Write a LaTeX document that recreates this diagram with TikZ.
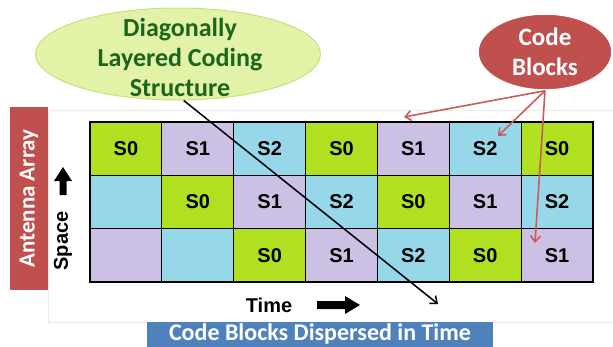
\documentclass[tikz,border=0pt]{standalone}
\usepackage{fontspec}
\setmainfont{Liberation Sans}
\newfontfamily\calib{Carlito}
\usetikzlibrary{shapes.geometric,arrows.meta}
\definecolor{col0}{HTML}{B0E020}
\definecolor{col1}{HTML}{CCC0E4}
\definecolor{col2}{HTML}{96D8EA}
\definecolor{redbox}{HTML}{C0504D}
\definecolor{redarrow}{HTML}{C85C5A}
\definecolor{bluebar}{HTML}{4F81BD}
\definecolor{ellfill}{HTML}{E2F3A8}
\definecolor{elldraw}{HTML}{C4E37E}
\definecolor{darkgreen}{HTML}{1B661B}
\tikzset{
  cell/.style={draw=black, line width=1.2pt, minimum width=71.86pt, minimum height=53.33pt, inner sep=0pt,
    font=\bfseries\fontsize{20}{22}\selectfont},
  redarr/.style={draw=redarrow, line width=1.6pt, -{Straight Barb[length=6pt,width=10pt]}},
  blkarr/.style={draw=black, line width=1.5pt, -{Straight Barb[length=6pt,width=10pt]}},
}
\begin{document}
\begin{tikzpicture}[x=1pt,y=-1pt]
\useasboundingbox (0,0) rectangle (613,346);
\fill[white] (0,0) rectangle (613,346);
% faint panel
\draw[black!8, line width=0.8pt] (48,110) rectangle (640,322);
% grid
\foreach \r in {0,1,2}{
  \foreach \c in {0,...,6}{
    \pgfmathtruncatemacro\k{mod(\c-\r+3,3)}
    \node[cell, fill=col\k] (c\r\c) at ({90+71.857*\c+35.93},{122+53.333*\r+26.67}) {\ifnum\c<\r\else S\k\fi};
  }
}
% antenna array
\node[fill=redbox, minimum width=183pt, minimum height=38pt, inner sep=0pt, rotate=90, text=white,
  font=\calib\bfseries\fontsize{23}{25}\selectfont] (ant) at (29,198.5) {Antenna Array};
% space
\node[rotate=90, font=\bfseries\fontsize{20}{22}\selectfont, inner sep=0pt] (space) at (63,241) {Space};
\fill[black] (59.5,195) -- (66.5,195) -- (66.5,181) -- (72,181) -- (63,167) -- (54,181) -- (59.5,181) -- cycle;
% time
\node[font=\bfseries\fontsize{20}{22}\selectfont, inner sep=0pt] (time) at (269,305) {Time};
\fill[black] (317,301) -- (345,301) -- (345,296) -- (360,305) -- (345,314) -- (345,309) -- (317,309) -- cycle;
% blue bar
\fill[bluebar] (147,322) rectangle (493,352);
\node[anchor=base, text=white, font=\calib\bfseries\fontsize{24}{26}\selectfont, inner sep=0pt] (bar) at (320,340.5) {Code Blocks Dispersed in Time};
% green ellipse
\node[ellipse, minimum width=285pt, minimum height=92pt, inner sep=0pt, fill=ellfill, draw=elldraw, line width=1pt] (diag) at (178,54) {};
\node[align=center, text=darkgreen, font=\calib\bfseries\fontsize{26}{30}\selectfont, inner sep=0pt] (diagtxt) at (180,57) {Diagonally\\Layered Coding\\Structure};
% code blocks ellipse
\node[ellipse, minimum width=134pt, minimum height=76pt, inner sep=0pt, fill=redbox, draw=white, line width=1.5pt] (cb) at (545,52) {};
\node[align=center, text=white, font=\calib\bfseries\fontsize{25}{30}\selectfont, inner sep=0pt] (cbtxt) at (545,52) {Code\\Blocks};
% connectors
\coordinate (dend) at (438,304);
\draw[blkarr] (diag.-83.5) -- (dend);
\coordinate (r1) at (404,117);
\coordinate (r2) at (498,136);
\coordinate (r3) at (535,243);
\draw[redarr] (cb.south) -- (r1);
\draw[redarr] (cb.south) -- (r2);
\draw[redarr] (cb.south) -- (r3);
\end{tikzpicture}
\end{document}
